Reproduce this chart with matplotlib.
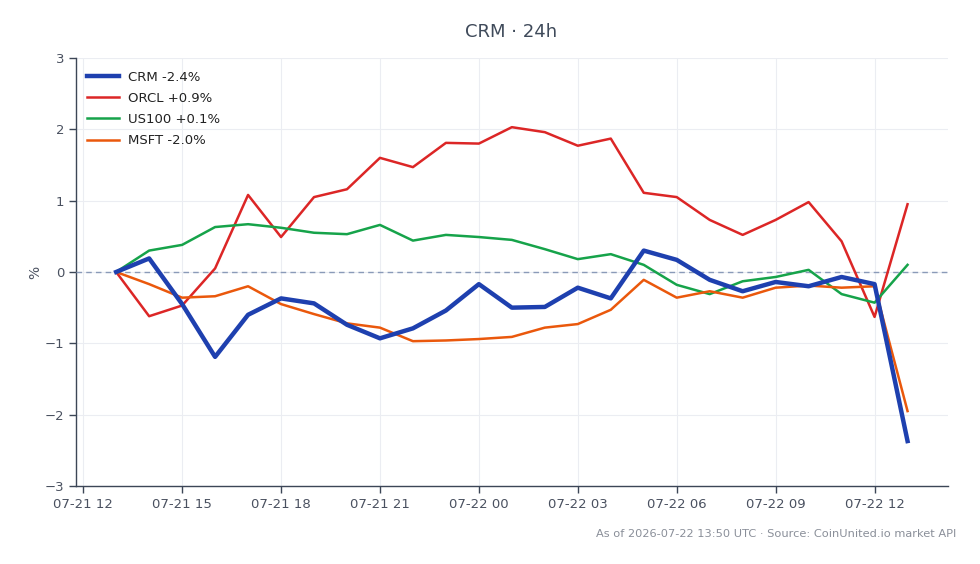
import matplotlib
matplotlib.use("Agg")
import matplotlib.pyplot as plt
import matplotlib.dates as mdates
import pandas as pd

# hourly snapshots, % change since start of the window
times = pd.date_range("2026-07-21 13:00", "2026-07-22 13:00", freq="h")

crm = [0.00, 0.19, -0.45, -1.19, -0.60, -0.37, -0.44, -0.74, -0.93, -0.79, -0.54, -0.17, -0.50,
       -0.49, -0.22, -0.37, 0.30, 0.17, -0.11, -0.27, -0.14, -0.20, -0.07, -0.17, -2.37]
orcl = [0.00, -0.62, -0.47, 0.05, 1.08, 0.49, 1.05, 1.16, 1.60, 1.47, 1.81, 1.80, 2.03,
        1.96, 1.77, 1.87, 1.11, 1.05, 0.73, 0.52, 0.73, 0.98, 0.43, -0.63, 0.95]
us100 = [0.00, 0.30, 0.38, 0.63, 0.67, 0.62, 0.55, 0.53, 0.66, 0.44, 0.52, 0.49, 0.45,
         0.32, 0.18, 0.25, 0.10, -0.18, -0.31, -0.13, -0.07, 0.03, -0.31, -0.43, 0.10]
msft = [0.00, -0.17, -0.36, -0.34, -0.20, -0.45, -0.59, -0.72, -0.78, -0.97, -0.96, -0.94, -0.91,
        -0.78, -0.73, -0.53, -0.11, -0.36, -0.27, -0.36, -0.22, -0.19, -0.22, -0.20, -1.95]

labels = ["CRM -2.4%", "ORCL +0.9%", "US100 +0.1%", "MSFT -2.0%"]
title = "CRM · 24h"
footer = "As of 2026-07-22 13:50 UTC · Source: CoinUnited.io market API"

axis_col = "#3c4656"
text_col = "#4a5160"
grid_col = "#ebedf2"

fig = plt.figure(figsize=(9.8, 5.64), dpi=100, facecolor="white")
ax = fig.add_axes([0.0776, 0.1383, 0.8894, 0.7589])

ax.plot(times, crm, color="#1e40af", lw=3.2, label=labels[0], zorder=5)
ax.plot(times, orcl, color="#dc2626", lw=1.8, label=labels[1], zorder=4)
ax.plot(times, us100, color="#16a34a", lw=1.8, label=labels[2], zorder=4)
ax.plot(times, msft, color="#ea580c", lw=1.8, label=labels[3], zorder=4)
ax.axhline(0, color="#8a9ab8", lw=1, ls=(0, (4, 3)), zorder=3)

ax.set_xlim(pd.Timestamp("2026-07-21 11:47"), pd.Timestamp("2026-07-22 14:13"))
ax.set_ylim(-3, 3)
ax.set_yticks([-3, -2, -1, 0, 1, 2, 3])
ax.xaxis.set_major_locator(mdates.HourLocator(byhour=range(0, 24, 3)))
ax.xaxis.set_major_formatter(mdates.DateFormatter("%m-%d %H"))

ax.grid(True, color=grid_col, lw=0.8, zorder=0)
for s in ("top", "right"):
    ax.spines[s].set_visible(False)
for s in ("left", "bottom"):
    ax.spines[s].set_color(axis_col)
    ax.spines[s].set_linewidth(1)
ax.tick_params(axis="both", colors=axis_col, labelcolor=text_col, labelsize=9.5, length=5, width=1)

ax.set_ylabel("%", color=text_col, fontsize=10, labelpad=2)
fig.text(0.522, 0.943, title, ha="center", va="center", fontsize=13, color="#3f4a5a")
fig.text(0.976, 0.054, footer, ha="right", va="center", fontsize=8.2, color="#8a8f99")

leg = ax.legend(loc="upper left", frameon=False, fontsize=9.5, handlelength=2.45,
                handletextpad=0.7, borderaxespad=0.4, labelspacing=0.62,
                bbox_to_anchor=(0.0, 0.995))
for t in leg.get_texts():
    t.set_color("#222222")

fig.savefig("out.png", dpi=100, facecolor="white")
